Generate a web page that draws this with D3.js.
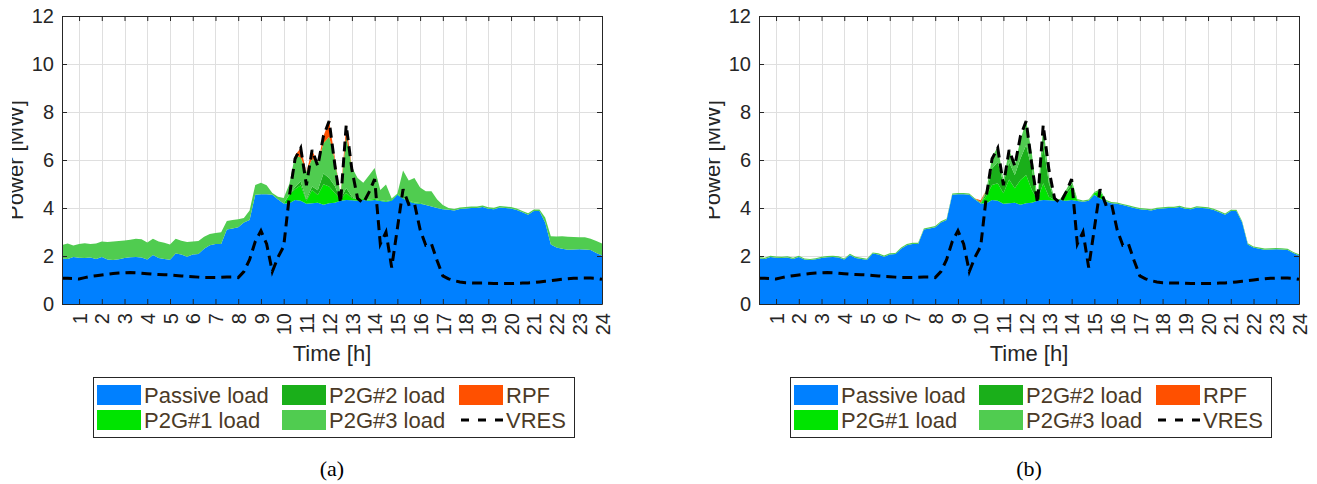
<!DOCTYPE html>
<html>
<head>
<meta charset="utf-8">
<script src="https://cdn.jsdelivr.net/npm/d3@7"></script>
<style>
  body { margin: 0; background: #fff; }
  svg { display: block; }
</style>
</head>
<body>
<svg id="fig" width="1317" height="484"></svg>
<script>
// Quarter-hour time steps (0.25 h ... 24 h)
const quarterHours = d3.range(1, 97).map(i => i / 4);
const hourTicks = [1,2,3,4,5,6,7,8,9,10,11,12,13,14,15,16,17,18,19,20,21,22,23,24];
const powerTicks = [0, 2, 4, 6, 8, 10, 12];

// Passive load [MW], identical in both cases
const passiveLoad = [
  1.90,1.88,1.96,1.93, 1.92,1.94,1.88,1.96, 1.85,1.83,1.86,1.92, 1.95,1.96,1.94,1.85,
  2.04,1.92,1.88,1.84, 2.10,2.06,1.97,2.06, 2.08,2.30,2.45,2.50, 2.50,3.10,3.15,3.20,
  3.40,3.50,4.55,4.57, 4.57,4.55,4.35,4.19, 4.20,4.33,4.30,4.18, 4.20,4.22,4.14,4.20,
  4.22,4.30,4.33,4.32, 4.30,4.33,4.30,4.33, 4.29,4.26,4.30,4.55, 4.40,4.27,4.20,4.18,
  4.12,4.06,4.00,3.95, 3.93,3.90,3.96,3.98, 4.00,4.00,4.04,3.97, 3.95,4.02,4.00,3.98,
  3.92,3.82,3.72,3.88, 3.88,3.40,2.48,2.35, 2.30,2.26,2.27,2.28, 2.27,2.25,2.12,2.02
];

// Variable renewable generation [MW]
const vres = [
  1.07,1.07,1.06,1.04, 1.10,1.15,1.18,1.21, 1.24,1.27,1.29,1.30, 1.31,1.30,1.28,1.26,
  1.24,1.23,1.22,1.21, 1.19,1.17,1.15,1.14, 1.12,1.10,1.10,1.10, 1.11,1.12,1.12,1.10,
  1.35,1.85,2.60,3.05, 2.50,1.35,1.95,2.40, 4.50,6.05,6.50,4.95, 6.42,5.75,7.00,7.62,
  5.80,4.20,7.46,5.60, 4.40,4.20,4.65,5.20, 2.50,3.00,1.52,3.15, 4.78,4.15,4.20,3.10,
  2.45,2.50,1.80,1.17, 1.05,0.97,0.92,0.89, 0.88,0.87,0.87,0.86, 0.85,0.85,0.85,0.85,
  0.86,0.87,0.88,0.89, 0.92,0.95,0.97,1.00, 1.03,1.05,1.07,1.08, 1.08,1.08,1.07,1.03
];

// Case (a)
const p2g1A = [
  0,0,0,0, 0,0,0,0, 0,0,0,0, 0,0,0,0, 0,0,0,0, 0,0,0,0, 0,0,0,0, 0,0,0,0,
  0,0,0,0, 0,0,0,0, 0.35,0.45,0.65,0.12, 0.55,0.32,0.85,0.70,
  0.40,0.06,0.30,0.10, 0.05,0.05,0.05,0.05, 0.03,0.03,0.03,0.03, 0.03,0.03,0.03,0.03,
  0,0,0,0, 0,0,0,0, 0,0,0,0, 0,0,0,0, 0,0,0,0, 0,0,0,0, 0,0,0,0, 0,0,0,0
];
const p2g2A = [
  0,0,0,0, 0,0,0,0, 0,0,0,0, 0,0,0,0, 0,0,0,0, 0,0,0,0, 0,0,0,0, 0,0,0,0,
  0,0,0,0, 0,0,0,0, 0,0.10,0.15,0.05, 0.15,0.20,0.45,0.35,
  0.30,0,0.20,0.05, 0,0,0,0, 0,0,0,0, 0,0,0,0,
  0,0,0,0, 0,0,0,0, 0,0,0,0, 0,0,0,0, 0,0,0,0, 0,0,0,0, 0,0,0,0, 0,0,0,0
];
const p2g3A = [
  0.56,0.64,0.48,0.57, 0.61,0.56,0.64,0.64, 0.73,0.77,0.77,0.73, 0.73,0.76,0.76,0.71,
  0.68,0.68,0.67,0.64, 0.62,0.58,0.61,0.54, 0.54,0.50,0.47,0.46, 0.49,0.36,0.35,0.33,
  0.18,0.40,0.41,0.48, 0.38,0.07,0.12,0.23, 0.45,1.32,1.00,1.15, 1.15,1.12,1.26,1.72,
  1.08,0.19,2.17,1.23, 0.90,0.67,1.00,1.29, 0.43,0.69,0.07,0.02, 1.13,0.85,1.02,0.64,
  0.58,0.64,0.35,0.17, 0.07,0.06,0.06,0.06, 0.06,0.06,0.06,0.06, 0.06,0.06,0.06,0.06,
  0.06,0.06,0.06,0.06, 0.06,0.20,0.34,0.46, 0.52,0.54,0.52,0.50, 0.51,0.47,0.50,0.50
];
const rpfA = [
  0,0,0,0, 0,0,0,0, 0,0,0,0, 0,0,0,0, 0,0,0,0, 0,0,0,0, 0,0,0,0, 0,0,0,0,
  0,0,0,0, 0,0,0,0, 0,0,0.40,0, 0.37,0,0.30,0.65,
  0.10,0,0.46,0, 0,0,0,0, 0,0,0,0, 0,0,0,0,
  0,0,0,0, 0,0,0,0, 0,0,0,0, 0,0,0,0, 0,0,0,0, 0,0,0,0, 0,0,0,0, 0,0,0,0
];

// Case (b)
const p2g1B = [
  0,0,0,0, 0,0,0,0, 0,0,0,0, 0,0,0,0, 0,0,0,0, 0,0,0,0, 0,0,0,0, 0,0,0,0,
  0,0,0,0, 0,0,0,0, 0.30,0.63,0.73,0.43, 0.99,0.60,1.03,1.18,
  0.53,0.03,0.70,0.15, 0.02,0,0.24,0.49, 0.03,0,0,0.07, 0.30,0.02,0,0,
  0,0,0,0, 0,0,0,0, 0,0,0,0, 0,0,0,0, 0,0,0,0, 0,0,0,0, 0,0,0,0, 0,0,0,0
];
const p2g2B = [
  0,0,0,0, 0,0,0,0, 0,0,0,0, 0,0,0,0, 0,0,0,0, 0,0,0,0, 0,0,0,0, 0,0,0,0,
  0,0,0,0, 0,0,0,0, 0.15,0.69,0.89,0.42, 0.73,0.56,0.89,1.24,
  0.85,0,1.66,0.56, 0,0,0.11,0.18, 0,0,0,0, 0,0,0,0,
  0,0,0,0, 0,0,0,0, 0,0,0,0, 0,0,0,0, 0,0,0,0, 0,0,0,0, 0,0,0,0, 0,0,0,0
];
const p2g3B = [
  0.05,0.05,0.05,0.05, 0.05,0.05,0.05,0.05, 0.05,0.05,0.05,0.05, 0.05,0.05,0.05,0.05,
  0.05,0.05,0.05,0.05, 0.05,0.05,0.05,0.05, 0.05,0.05,0.05,0.05, 0.05,0.05,0.05,0.05,
  0.05,0.05,0.05,0.05, 0.05,0.05,0.05,0.05, 0.10,0.45,0.64,0.14, 0.50,0.42,0.77,1.02,
  0.68,0.04,0.77,0.27, 0.03,0.04,0.10,0.17, 0.05,0.05,0.05,0.05, 0.08,0.05,0.05,0.05,
  0.05,0.05,0.05,0.05, 0.05,0.05,0.05,0.05, 0.05,0.05,0.05,0.05, 0.05,0.05,0.05,0.05,
  0.05,0.05,0.05,0.05, 0.05,0.05,0.05,0.05, 0.05,0.05,0.05,0.05, 0.05,0.05,0.05,0.05
];
const rpfB = [
  0,0,0,0, 0,0,0,0, 0,0,0,0, 0,0,0,0, 0,0,0,0, 0,0,0,0, 0,0,0,0, 0,0,0,0,
  0,0,0,0, 0,0,0,0.08, 0,0,0,0, 0,0,0,0,
  0,0,0,0, 0,0,0,0, 0,0,0,0, 0,0,0,0,
  0,0,0,0, 0,0,0,0, 0,0,0,0, 0,0,0,0, 0,0,0,0, 0,0,0,0, 0,0,0,0, 0,0,0,0
];

const seriesKeys = ["passive", "p2g1", "p2g2", "p2g3", "rpf"];
const seriesColors = {
  passive: "#0080ff",
  p2g1: "#00e400",
  p2g2: "#1aaf1a",
  p2g3: "#50cc50",
  rpf: "#ff5000"
};
const legendItems = [
  { key: "passive", label: "Passive load", col: 0, row: 0 },
  { key: "p2g1", label: "P2G#1 load", col: 0, row: 1 },
  { key: "p2g2", label: "P2G#2 load", col: 1, row: 0 },
  { key: "p2g3", label: "P2G#3 load", col: 1, row: 1 },
  { key: "rpf", label: "RPF", col: 2, row: 0 },
  { key: "vres", label: "VRES", col: 2, row: 1 }
];

const panels = [
  { left: 62, caption: "(a)", p2g1: p2g1A, p2g2: p2g2A, p2g3: p2g3A, rpf: rpfA },
  { left: 759, caption: "(b)", p2g1: p2g1B, p2g2: p2g2B, p2g3: p2g3B, rpf: rpfB }
];

const svg = d3.select("#fig");
const plotW = 540, plotTop = 16, plotBottom = 304;
const axisColor = "#262626";
const font = "'Liberation Sans', Arial, Helvetica, sans-serif";

panels.forEach((p, pi) => {
  const x = d3.scaleLinear().domain([0.25, 24]).range([p.left, p.left + plotW]);
  const y = d3.scaleLinear().domain([0, 12]).range([plotBottom, plotTop]);
  const g = svg.append("g");

  // grid
  const grid = g.append("g").attr("stroke", "#dfdfdf").attr("stroke-width", 1);
  hourTicks.forEach(h => {
    const xx = Math.round(x(h)) + 0.5;
    grid.append("line").attr("x1", xx).attr("x2", xx).attr("y1", plotTop).attr("y2", plotBottom);
  });
  powerTicks.forEach(v => {
    const yy = Math.round(y(v)) + 0.5;
    grid.append("line").attr("x1", p.left).attr("x2", p.left + plotW).attr("y1", yy).attr("y2", yy);
  });

  // stacked areas
  const rows = quarterHours.map((t, i) => ({
    t,
    passive: passiveLoad[i],
    p2g1: p.p2g1[i],
    p2g2: p.p2g2[i],
    p2g3: p.p2g3[i],
    rpf: p.rpf[i]
  }));
  const stacked = d3.stack().keys(seriesKeys)(rows);
  const area = d3.area()
    .x(d => x(d.data.t))
    .y0(d => y(d[0]))
    .y1(d => y(d[1]));
  g.append("g").selectAll("path")
    .data(stacked)
    .join("path")
    .attr("fill", d => seriesColors[d.key])
    .attr("d", area);

  // VRES line
  const line = d3.line().x((d, i) => x(quarterHours[i])).y(d => y(d));
  g.append("path")
    .datum(vres)
    .attr("fill", "none")
    .attr("stroke", "#000")
    .attr("stroke-width", 3)
    .attr("stroke-dasharray", "10,6")
    .attr("d", line);

  // axes (ticks point inward)
  const axB = g.append("g").attr("transform", `translate(0,${plotBottom})`)
    .call(d3.axisBottom(x).tickValues(hourTicks).tickSizeInner(-5).tickSizeOuter(0).tickFormat(d3.format("d")));
  axB.selectAll("text")
    .attr("transform", "rotate(-90)")
    .attr("x", -9).attr("y", 0).attr("dy", "0.36em")
    .style("text-anchor", "end");
  const axT = g.append("g").attr("transform", `translate(0,${plotTop})`)
    .call(d3.axisTop(x).tickValues(hourTicks).tickSizeInner(-5).tickSizeOuter(0).tickFormat(""));
  const axL = g.append("g").attr("transform", `translate(${p.left},0)`)
    .call(d3.axisLeft(y).tickValues(powerTicks).tickSizeInner(-5).tickSizeOuter(0).tickPadding(8).tickFormat(d3.format("d")));
  const axR = g.append("g").attr("transform", `translate(${p.left + plotW},0)`)
    .call(d3.axisRight(y).tickValues(powerTicks).tickSizeInner(-5).tickSizeOuter(0).tickFormat(""));
  [axB, axT, axL, axR].forEach(a => {
    a.selectAll("path,line").attr("stroke", axisColor);
    a.selectAll("text").attr("fill", axisColor).style("font-family", font).style("font-size", "20px");
  });

  // axis titles
  g.append("text")
    .attr("x", p.left + plotW / 2).attr("y", 361)
    .attr("text-anchor", "middle")
    .style("font-family", font).style("font-size", "22px").attr("fill", axisColor)
    .text("Time [h]");

  // y title, cut at the panel's left border
  const clipId = "ylab-clip-" + pi;
  svg.append("clipPath").attr("id", clipId)
    .append("rect").attr("x", p.left - 50).attr("y", 0).attr("width", 45).attr("height", 330);
  g.append("g").attr("clip-path", `url(#${clipId})`)
    .append("text")
    .attr("transform", `translate(${p.left - 39},160) rotate(-90)`)
    .attr("text-anchor", "middle")
    .style("font-family", font).style("font-size", "22px").attr("fill", axisColor)
    .text("Power [MW]");

  // legend
  const lx = p.left + 31, ly = 377;
  const leg = g.append("g");
  leg.append("rect").attr("x", lx + 0.5).attr("y", ly + 0.5).attr("width", 481).attr("height", 60)
    .attr("fill", "#fff").attr("stroke", axisColor).attr("stroke-width", 1);
  const colX = [4, 189, 366];
  const rowY = [18, 43];
  legendItems.forEach(it => {
    const sx = lx + colX[it.col], cy = ly + rowY[it.row];
    if (it.key === "vres") {
      leg.append("line").attr("x1", sx + 2).attr("x2", sx + 44).attr("y1", cy).attr("y2", cy)
        .attr("stroke", "#000").attr("stroke-width", 3).attr("stroke-dasharray", "8,9");
    } else {
      leg.append("rect").attr("x", sx).attr("y", cy - 10).attr("width", 44).attr("height", 20)
        .attr("fill", seriesColors[it.key]);
    }
    leg.append("text").attr("x", sx + 47).attr("y", cy).attr("dy", "0.36em")
      .style("font-family", font).style("font-size", "22px").attr("fill", "#4b3a26")
      .text(it.label);
  });

  // caption
  g.append("text")
    .attr("x", p.left + plotW / 2).attr("y", 476)
    .attr("text-anchor", "middle")
    .style("font-family", "'Liberation Serif', 'Times New Roman', serif").style("font-size", "22px")
    .attr("fill", "#000")
    .text(p.caption);
});
</script>
</body>
</html>
